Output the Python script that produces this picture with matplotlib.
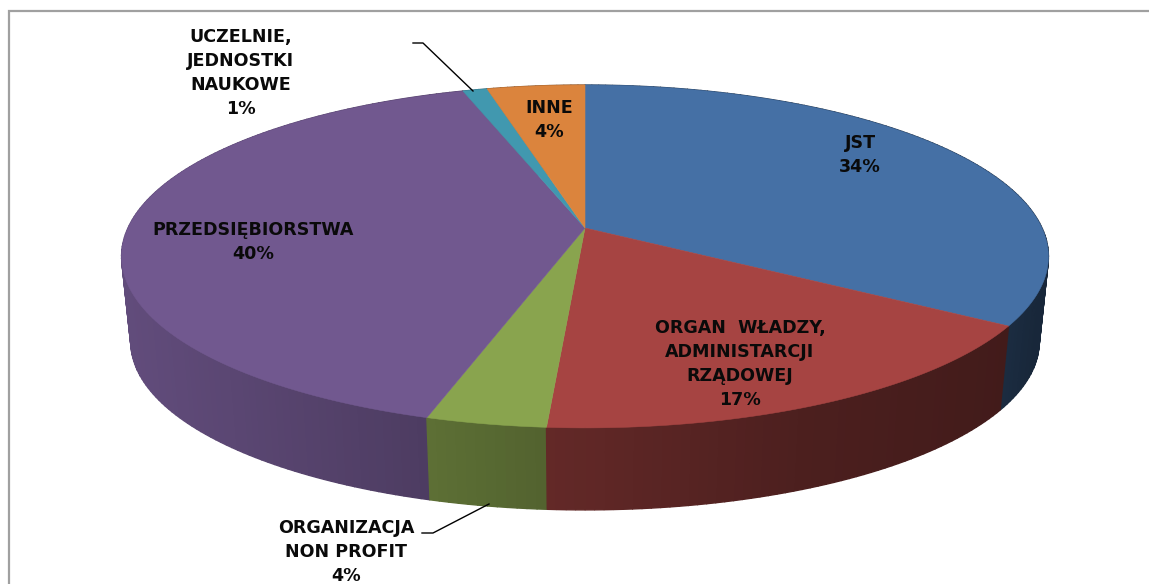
import matplotlib
matplotlib.use("Agg")
import matplotlib.pyplot as plt
import numpy as np

# Dane wykresu (procenty)
KATEGORIE = ["JST", "ORGAN  WŁADZY,\nADMINISTARCJI\nRZĄDOWEJ", "ORGANIZACJA\nNON PROFIT",
             "PRZEDSIĘBIORSTWA", "UCZELNIE,\nJEDNOSTKI\nNAUKOWE", "INNE"]
WARTOSCI = [34.0, 17.12, 3.58, 40.3, 1.0, 4.0]
KOLORY = ["#4570a5", "#a64442", "#89a44e", "#71588f", "#4198af", "#db843d"]

# Polozenie srodka opisu kazdego wycinka (piksele)
POZ_X = [860, 740, 346, 253, 241, 549]
POZ_Y = [155, 364, 552, 242, 73, 120]

# Perspektywa placka
CX, CY = 585, 228
A, B, K = 457, 166.7, 0.166
SKALA_DOL, PRZES_DOL = 0.98, 86


def rzut(kat, dol=False):
    """Kat liczony od gory zgodnie z ruchem wskazowek -> piksele obrazka"""
    x, y = np.sin(kat), np.cos(kat)
    m = 1 + K * y
    u, v = A * x / m, B * y / m
    if dol:
        return CX + SKALA_DOL * u, CY + PRZES_DOL - SKALA_DOL * v
    return CX + u, CY - v


def cien(x):
    return np.interp(x, [130, 430, 546, 800, 1003, 1040], [0.86, 0.68, 0.6, 0.46, 0.4, 0.35])


fig = plt.figure(figsize=(11.49, 5.84), dpi=100, facecolor="white")
ax = fig.add_axes([0, 0, 1, 1])
ax.set_xlim(0, 1149)
ax.set_ylim(584, 0)
ax.axis("off")

# Ramka wykresu (tylko lewa i gorna krawedz sa widoczne)
ax.plot([8.5, 8.5, 1149], [584, 11, 11], color="#a0a0a0", lw=1.6, solid_joinstyle="miter")

granice = np.radians(np.cumsum([0] + WARTOSCI) * 3.6)

# Boki placka: paski od tylu do przodu, z cieniowaniem zaleznym od x
paski = []
for i, kolor in enumerate(KOLORY):
    n = max(int(np.degrees(granice[i + 1] - granice[i])), 2)
    katy = np.linspace(granice[i], granice[i + 1], n + 1)
    for k0, k1 in zip(katy[:-1], katy[1:]):
        paski.append((np.cos((k0 + k1) / 2), k0, k1, kolor))

for _, k0, k1, kolor in sorted(paski, key=lambda p: -p[0]):
    x0, y0 = rzut(k0)
    x1, y1 = rzut(k1)
    x2, y2 = rzut(k1, dol=True)
    x3, y3 = rzut(k0, dol=True)
    rgb = np.array(matplotlib.colors.to_rgb(kolor)) * cien((x0 + x1) / 2)
    ax.fill([x0, x1, x2, x3], [y0, y1, y2, y3], color=rgb, lw=1.0, zorder=2)

# Gorna powierzchnia
for i, kolor in enumerate(KOLORY):
    katy = np.linspace(granice[i], granice[i + 1], 200)
    xs, ys = rzut(katy)
    ax.fill(np.r_[CX, xs], np.r_[CY, ys], color=kolor, lw=0.4, zorder=3)

# Linie odniesienia
ax.plot([413, 423, 473], [43, 43, 91], color="black", lw=1, zorder=4)
ax.plot([422, 433, 489], [533, 533, 504], color="black", lw=1, zorder=4)

# Opisy
for nazwa, wart, x, y in zip(KATEGORIE, WARTOSCI, POZ_X, POZ_Y):
    ax.text(x, y, f"{nazwa}\n{round(wart)}%", ha="center", va="center", fontsize=12.6,
            fontweight="bold", family="DejaVu Sans", color="#0a0a0a", linespacing=1.42, zorder=5)

fig.savefig("out.png", dpi=100)
plt.close()
